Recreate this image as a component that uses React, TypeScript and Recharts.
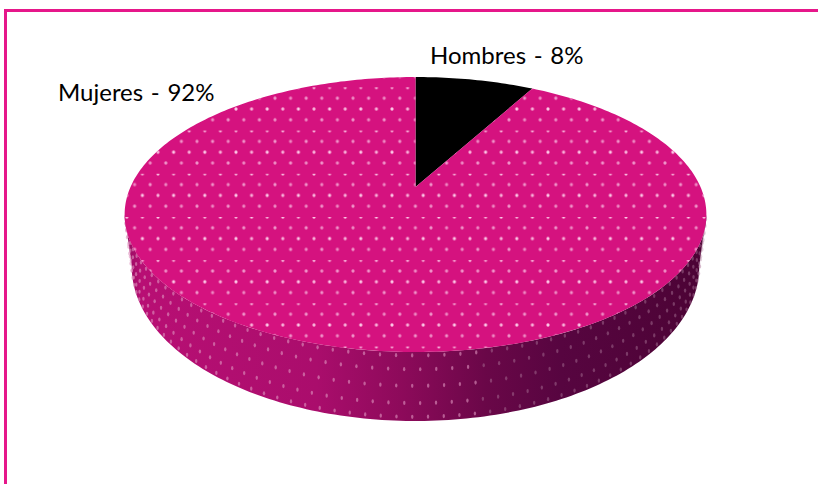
import { PieChart, Pie, Cell } from 'recharts';

const names = ['Hombres', 'Mujeres'];
const shares = [8, 92];
const sliceColors = ['#000000', '#d5127f'];
const data = names.map((name, i) => ({ name, value: shares[i] }));

// Where each slice's caption sits, by slice index
const captionSpots = [
  { x: 430, y: 64 },
  { x: 58, y: 101 },
];

// Tilted disc: the circle goes through a perspective projection,
// so the far half looks shorter and the hub sits above the ellipse centre.
const PERSPECTIVE = 0.2;
const Y_SQUASH = 132 / 285;
const BOTTOM = { scaleX: 278 / 285, scaleY: 148 / 285, drop: 49 };
const FRONT_FROM = (Math.acos(-PERSPECTIVE) * 180) / Math.PI;
const FRONT_TO = 360 - FRONT_FROM;

type Point = { x: number; y: number };

// bearing = degrees clockwise from twelve o'clock, t = 0 on the top rim, 1 on the bottom rim
const project = (cx: number, cy: number, r: number, bearing: number, t = 0): Point => {
  const rad = (bearing * Math.PI) / 180;
  const u = Math.sin(rad);
  const v = Math.cos(rad);
  const w = 1 + PERSPECTIVE * v;
  const sx = 1 + (BOTTOM.scaleX - 1) * t;
  const sy = Y_SQUASH + (BOTTOM.scaleY - Y_SQUASH) * t;
  return { x: cx + (r * sx * u) / w, y: cy + BOTTOM.drop * t - (r * sy * v) / w };
};

const range = (from: number, to: number, step = 1) => {
  const out: number[] = [];
  for (let a = from; a < to; a += step) out.push(a);
  out.push(to);
  return out;
};

const toPath = (pts: Point[]) =>
  pts.map((p, i) => `${i ? 'L' : 'M'}${p.x.toFixed(2)} ${p.y.toFixed(2)}`).join(' ') + ' Z';

// Rows of soft dots around the side wall
const WallDots = ({ cx, cy, r, from, to }: any) => {
  const dots = [];
  const rows = [0.05, 0.25, 0.49, 0.74, 0.94];
  for (let row = 0; row < rows.length; row++) {
    const offset = row % 2 ? 1.3 : 0;
    for (let a = from + 1 + offset; a < to - 1; a += 2.6) {
      const p = project(cx, cy, r, a, rows[row]);
      const onDarkSide = a < 170;
      dots.push(
        <ellipse
          key={`${row}-${a}`}
          cx={p.x}
          cy={p.y}
          rx={1.2}
          ry={2.1}
          fill={onDarkSide ? '#b98aa8' : '#e094c0'}
          opacity={onDarkSide ? 0.4 : 0.6}
        />,
      );
    }
  }
  return <g filter="url(#soften)">{dots}</g>;
};

const DiscSlice = (props: any) => {
  const { cx, cy, outerRadius, startAngle, endAngle, fill, index } = props;
  // recharts angles run counter-clockwise from three o'clock
  const from = 90 - startAngle;
  const to = 90 - endAngle;
  const top = range(from, to).map((a) => project(cx, cy, outerRadius, a));
  const wallFrom = Math.max(from, FRONT_FROM);
  const wallTo = Math.min(to, FRONT_TO);
  const hasWall = wallTo > wallFrom;
  const wall = hasWall
    ? [
        ...range(wallFrom, wallTo).map((a) => project(cx, cy, outerRadius, a)),
        ...range(wallFrom, wallTo).reverse().map((a) => project(cx, cy, outerRadius, a, 1)),
      ]
    : [];
  const face = toPath([{ x: cx, y: cy }, ...top]);
  return (
    <g>
      {hasWall && <path d={toPath(wall)} fill="url(#wallShade)" />}
      {hasWall && <WallDots cx={cx} cy={cy} r={outerRadius} from={wallFrom} to={wallTo} />}
      <path d={face} fill={fill} />
      {index === 1 && <path d={face} fill="url(#topDots)" filter="url(#soften)" />}
    </g>
  );
};

const renderCaption = ({ index }: any) => (
  <text
    x={captionSpots[index].x}
    y={captionSpots[index].y}
    fontFamily="Lato, sans-serif"
    fontSize={24}
    wordSpacing={1.5}
    fill="#000000"
    textAnchor="start"
  >
    {`${names[index]} - ${shares[index]}%`}
  </text>
);

export default function App() {
  return (
    <div
      style={{
        position: 'absolute',
        left: 4,
        top: 9,
        width: 811,
        height: 472,
        borderTop: '3px solid #e6178a',
        borderLeft: '3px solid #e6178a',
        background: '#ffffff',
      }}
    >
      <div style={{ position: 'absolute', left: -7, top: -12 }}>
        <PieChart width={818} height={484} margin={{ top: 0, right: 0, bottom: 0, left: 0 }}>
          <defs>
            <linearGradient id="wallShade" gradientUnits="userSpaceOnUse" x1="124" y1="0" x2="707" y2="0">
              <stop offset="0" stopColor="#8f0a5c" />
              <stop offset="0.03" stopColor="#b80f74" />
              <stop offset="0.33" stopColor="#aa0d6c" />
              <stop offset="0.48" stopColor="#8c0a5a" />
              <stop offset="0.62" stopColor="#6a0748" />
              <stop offset="0.75" stopColor="#570540" />
              <stop offset="1" stopColor="#4c0335" />
            </linearGradient>
            <pattern id="topDots" patternUnits="userSpaceOnUse" x="2" y="1" width="31.2" height="43.2">
              <circle cx="0" cy="0" r="1.6" fill="#fcc8e6" />
              <circle cx="31.2" cy="0" r="1.6" fill="#fcc8e6" />
              <circle cx="15.6" cy="0" r="1.6" fill="#f8b0d8" />
              <circle cx="7.8" cy="10.8" r="1.6" fill="#ee88c2" />
              <circle cx="23.4" cy="10.8" r="1.6" fill="#f094c9" />
              <circle cx="0" cy="21.6" r="1.6" fill="#f8b0d8" />
              <circle cx="31.2" cy="21.6" r="1.6" fill="#f8b0d8" />
              <circle cx="15.6" cy="21.6" r="1.6" fill="#fcc8e6" />
              <circle cx="7.8" cy="32.4" r="1.6" fill="#f094c9" />
              <circle cx="23.4" cy="32.4" r="1.6" fill="#ee88c2" />
            </pattern>
            <filter id="soften" x="-5%" y="-5%" width="110%" height="110%">
              <feGaussianBlur stdDeviation="0.6" />
            </filter>
          </defs>
          <Pie
            data={data}
            dataKey="value"
            nameKey="name"
            cx={415.5}
            cy={187}
            outerRadius={285}
            startAngle={90}
            endAngle={-270}
            stroke="none"
            shape={DiscSlice}
            label={renderCaption}
            labelLine={false}
            isAnimationActive={false}
          >
            {data.map((d, i) => (
              <Cell key={d.name} fill={sliceColors[i]} />
            ))}
          </Pie>
        </PieChart>
      </div>
    </div>
  );
}
